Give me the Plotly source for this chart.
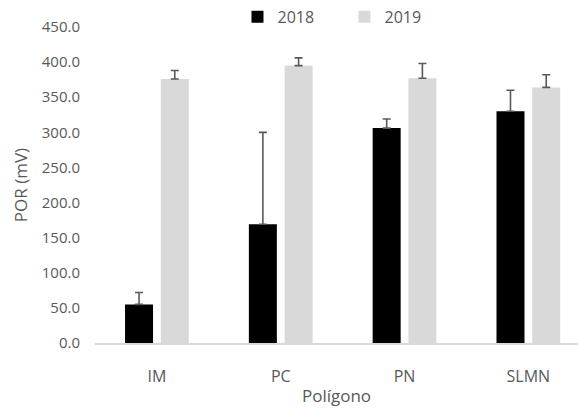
import plotly.graph_objects as go

# Redox potential (POR) by polygon, two sampling years
poligonos = ["IM", "PC", "PN", "SLMN"]
por_2018 = [55, 169, 306, 330]
err_2018 = [17, 131, 13, 30]
por_2019 = [376, 395, 377, 364]
err_2019 = [12, 11, 21, 18]

font_family = "Open Sans, Liberation Sans, sans-serif"
text_gray = "#595959"

def error_style(values):
    return dict(
        type="data",
        symmetric=False,
        array=values,
        arrayminus=[0] * len(values),
        color="#595959",
        thickness=1.6,
        width=4,
    )

fig = go.Figure()
fig.add_trace(go.Bar(
    name="2018", x=poligonos, y=por_2018,
    marker=dict(color="#000000", line=dict(width=0)),
    error_y=error_style(err_2018),
))
fig.add_trace(go.Bar(
    name="2019", x=poligonos, y=por_2019,
    marker=dict(color="#d9d9d9", line=dict(width=0)),
    error_y=error_style(err_2019),
))

fig.update_layout(
    width=578, height=409,
    margin=dict(l=95, r=0, t=27, b=66, autoexpand=False),
    paper_bgcolor="white", plot_bgcolor="white",
    font=dict(family=font_family, size=16, color=text_gray),
    barmode="group", bargap=0.423, bargroupgap=0.216,
    showlegend=True,
    legend=dict(
        orientation="h", x=0.295, xanchor="left", y=1.032, yanchor="middle",
        font=dict(size=16, color=text_gray),
        entrywidth=62, entrywidthmode="pixels",
        bgcolor="rgba(0,0,0,0)",
    ),
)

fig.update_xaxes(
    type="category", range=[-0.5, 3.401],
    showline=True, linecolor="#d9d9d9", linewidth=1.5,
    showgrid=False, ticks="", ticklabelstandoff=18,
    tickfont=dict(size=16, color=text_gray),
    title=dict(text="Polígono", font=dict(size=17, color=text_gray), standoff=4),
)
fig.update_yaxes(
    range=[0, 450], dtick=50, tickformat=".1f",
    showline=False, showgrid=False, zeroline=False,
    ticks="", ticklabelstandoff=14,
    tickfont=dict(size=15, color=text_gray),
    title=dict(text="POR (mV)", font=dict(size=17, color=text_gray), standoff=9),
)

fig.write_html("out.html")
